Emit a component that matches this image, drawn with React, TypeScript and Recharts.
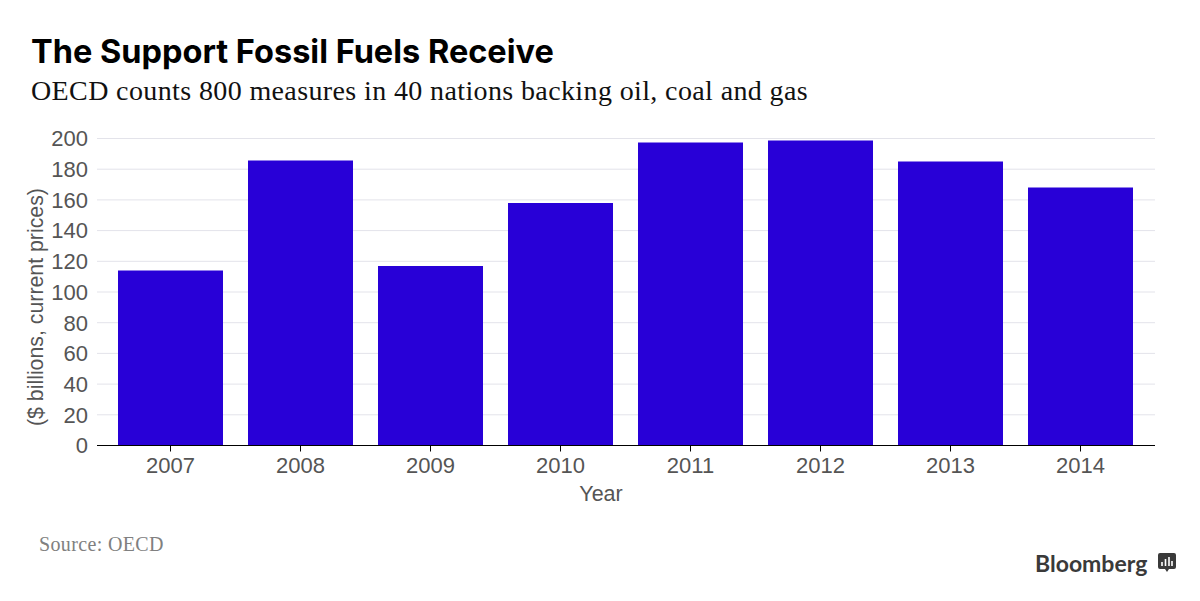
import React from "react";
import { BarChart, Bar, XAxis, YAxis, CartesianGrid } from "recharts";

const years = ["2007", "2008", "2009", "2010", "2011", "2012", "2013", "2014"];
const support = [114, 185.7, 117, 158, 197.4, 198.7, 185, 168];
const yTicks = [0, 20, 40, 60, 80, 100, 120, 140, 160, 180, 200];
const title = "The Support Fossil Fuels Receive";
const subtitle = "OECD counts 800 measures in 40 nations backing oil, coal and gas";
const source = "Source: OECD";
const rows = years.map((year, i) => ({ year, value: support[i] }));

const abs = (s: React.CSSProperties): React.CSSProperties => ({ position: "absolute", whiteSpace: "nowrap", margin: 0, ...s });
const SANS = "'Liberation Sans', Arial, sans-serif";

export default function App() {
  return (
    <div style={{ position: "absolute", left: 0, top: 0, width: 1200, height: 601, background: "#fff", overflow: "hidden" }}>
      <div style={abs({ left: 31, top: 33, fontFamily: "Inter, sans-serif", fontWeight: 700, fontSize: 32.5, lineHeight: "38px", color: "#000" })}>{title}</div>
      <div style={abs({ left: 31, top: 74, fontFamily: "'Liberation Serif', serif", fontSize: 28, lineHeight: "34px", letterSpacing: 0.38, color: "#111" })}>{subtitle}</div>
      <BarChart
        width={1200}
        height={601}
        data={rows}
        margin={{ top: 138.5, right: 45, bottom: 95.5, left: 27 }}
        barCategoryGap={12.5}
        style={{ position: "absolute", left: 0, top: 0 }}
      >
        <CartesianGrid horizontal vertical={false} stroke="#e3e3ea" strokeWidth={1} />
        <XAxis
          dataKey="year"
          height={60}
          padding={{ left: 8.5, right: 9.5 }}
          axisLine={{ stroke: "#000", strokeWidth: 1 }}
          tickLine={{ stroke: "#000", strokeWidth: 1 }}
          tickSize={6}
          tickMargin={6}
          tick={{ fontFamily: SANS, fontSize: 22, fill: "#555" }}
          interval={0}
          label={{ value: "Year", position: "insideBottom", offset: 5, dx: -25, fontFamily: SANS, fontSize: 21.5, fill: "#555" }}
        />
        <YAxis
          width={70}
          domain={[0, 200]}
          ticks={yTicks}
          interval={0}
          axisLine={false}
          tickLine={false}
          tickMargin={9}
          tickSize={0}
          tick={{ fontFamily: SANS, fontSize: 22, fill: "#555" }}
          label={{ value: "($ billions, current prices)", angle: -90, position: "insideLeft", offset: 8, dy: 134, fontFamily: SANS, fontSize: 21.3, fill: "#555" }}
        />
        <Bar dataKey="value" fill="#2800d7" isAnimationActive={false} />
      </BarChart>
      <div style={abs({ left: 39, top: 532, fontFamily: "'Liberation Serif', serif", fontSize: 20, lineHeight: "24px", letterSpacing: 0.35, color: "#808080" })}>{source}</div>
      <div style={abs({ left: 1035, top: 549, fontFamily: "Lato, sans-serif", fontWeight: 700, fontSize: 23, lineHeight: "28px", color: "#3a3a3a" })}>Bloomberg</div>
      <svg width={18} height={20} style={{ position: "absolute", left: 1158, top: 553 }}>
        <path d="M2 0H16A2 2 0 0 1 18 2V14A2 2 0 0 1 16 16H11L9 19L7 16H2A2 2 0 0 1 0 14V2A2 2 0 0 1 2 0Z" fill="#3a3a3a" />
        <path d="M4 9V13M7.5 6V13M11 4V13M14 8V13" stroke="#fff" strokeWidth={1.6} />
      </svg>
    </div>
  );
}
